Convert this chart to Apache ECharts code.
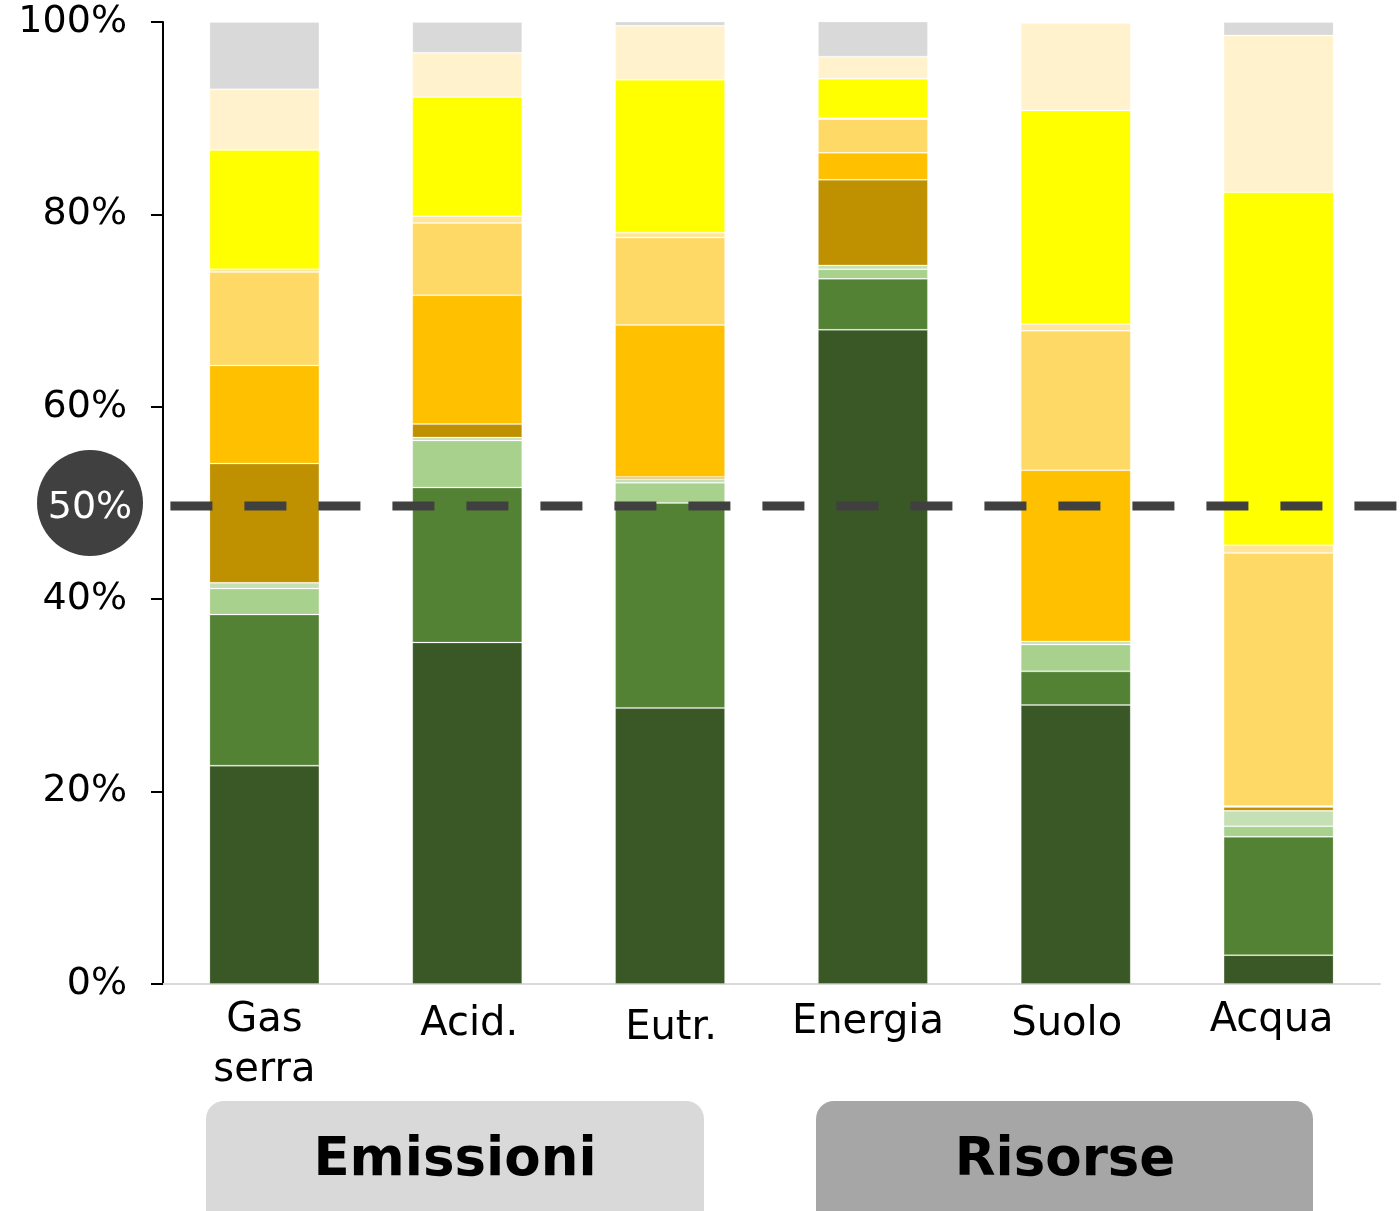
<!DOCTYPE html>
<html>
<head>
<meta charset="utf-8">
<title>Impatti per categoria</title>
<script src="https://cdn.jsdelivr.net/npm/echarts@6/dist/echarts.min.js"></script>
<style>
  html, body { margin: 0; padding: 0; background: #ffffff; }
  #chart { width: 1400px; height: 1211px; }
</style>
</head>
<body>
<div id="chart"></div>
<script>
// Impact categories (x axis)
const categories = ['Gas\nserra', 'Acid.', 'Eutr.', 'Energia', 'Suolo', 'Acqua'];

// Y axis ticks
const yTicks = [0, 20, 40, 60, 80, 100];

// Share of each contributor per category, in %, stacked bottom to top
const darkGreen      = [22.7, 35.5, 28.7, 68.0, 29.0,  3.0];
const midGreen       = [15.7, 16.1, 21.3,  5.3,  3.5, 12.3];
const lightGreen     = [ 2.7,  4.9,  2.1,  1.0,  2.8,  1.1];
const paleGreen      = [ 0.6,  0.3,  0.4,  0.4,  0.3,  1.6];
const darkGold       = [12.4,  1.4,  0.2,  8.9,  0.0,  0.4];
const orange         = [10.2, 13.4, 15.8,  2.8, 17.8,  0.1];
const lightOrange    = [ 9.7,  7.5,  9.1,  3.5, 14.5, 26.3];
const paleOrange     = [ 0.3,  0.7,  0.5,  0.1,  0.7,  0.8];
const yellow         = [12.4, 12.4, 15.9,  4.1, 22.2, 36.7];
const cream          = [ 6.3,  4.6,  5.6,  2.3,  9.1, 16.3];
const grey           = [ 7.0,  3.2,  0.5,  3.7,  0.1,  1.4];

// Reference threshold
const threshold = 50;

// Category groups shown below the axis
const groupLabels = ['Emissioni', 'Risorse'];

const layers = [
  { data: darkGreen,   color: '#3A5726' },
  { data: midGreen,    color: '#548235' },
  { data: lightGreen,  color: '#A9D18E' },
  { data: paleGreen,   color: '#C5E0B4' },
  { data: darkGold,    color: '#BF9000' },
  { data: orange,      color: '#FFC000' },
  { data: lightOrange, color: '#FFD966' },
  { data: paleOrange,  color: '#FFE699' },
  { data: yellow,      color: '#FFFF00' },
  { data: cream,       color: '#FFF2CC' },
  { data: grey,        color: '#D9D9D9' }
];

// Small per-label nudges of the category text boxes [top, right, bottom, left]
const labelPadding = [
  [0, 0, 0, 0],
  [4, 0, 0, 4],
  [8, 0, 0, 2],
  [2, 10, 0, 0],
  [4, 18, 0, 0],
  [0, 14, 0, 0]
];

const FONT = 'DejaVu Sans, Verdana, sans-serif';

const chart = echarts.init(document.getElementById('chart'), null, { renderer: 'canvas' });

const option = {
  backgroundColor: '#ffffff',
  animation: false,
  grid: { left: 163, right: 20, top: 22, bottom: 227, containLabel: false },
  xAxis: {
    type: 'category',
    data: categories.map((c, i) => ({
      value: c,
      textStyle: { padding: labelPadding[i] }
    })),
    axisLine: { show: true, lineStyle: { color: '#D9D9D9', width: 2 } },
    axisTick: { show: false },
    axisLabel: {
      color: '#000000',
      fontFamily: FONT,
      fontSize: 40,
      lineHeight: 50,
      margin: 12,
      interval: 0
    }
  },
  yAxis: {
    type: 'value',
    min: yTicks[0],
    max: yTicks[yTicks.length - 1],
    interval: 20,
    splitLine: { show: false },
    axisLine: { show: true, lineStyle: { color: '#000000', width: 2 } },
    axisTick: { show: true, length: 12, lineStyle: { color: '#000000', width: 2 } },
    axisLabel: {
      color: '#000000',
      fontFamily: FONT,
      fontSize: 38,
      margin: 36,
      formatter: '{value}%'
    }
  },
  series: layers.map((l) => ({
    type: 'bar',
    stack: 'total',
    barWidth: 110,
    data: l.data,
    itemStyle: {
      color: l.color,
      borderColor: 'rgba(255,255,255,0.22)',
      borderWidth: 1
    },
    emphasis: { disabled: true },
    z: 2
  }))
};

chart.setOption(option);

// Overlay: dashed threshold line, its badge and the two group boxes
const yPix = chart.convertToPixel({ yAxisIndex: 0 }, threshold);
const xStart = chart.convertToPixel({ xAxisIndex: 0 }, 0) - 94;

chart.setOption({
  graphic: [
    {
      type: 'line',
      z: 10,
      shape: { x1: xStart, y1: yPix + 3, x2: 1400, y2: yPix + 3 },
      style: { stroke: '#404040', lineWidth: 9, lineDash: [42, 32] }
    },
    {
      type: 'ellipse',
      z: 11,
      shape: { cx: 90, cy: yPix, rx: 53, ry: 53 },
      style: { fill: '#404040' }
    },
    {
      type: 'text',
      z: 12,
      x: 90,
      y: yPix + 5,
      style: {
        text: threshold + '%',
        fill: '#ffffff',
        font: '38px ' + FONT,
        align: 'center',
        verticalAlign: 'middle'
      }
    },
    {
      type: 'rect',
      z: 5,
      shape: { x: 206, y: 1101, width: 498, height: 140, r: 18 },
      style: { fill: '#D9D9D9' }
    },
    {
      type: 'text',
      z: 6,
      x: 455,
      y: 1161,
      style: {
        text: groupLabels[0],
        fill: '#000000',
        font: 'bold 53px ' + FONT,
        align: 'center',
        verticalAlign: 'middle'
      }
    },
    {
      type: 'rect',
      z: 5,
      shape: { x: 816, y: 1101, width: 497, height: 140, r: 18 },
      style: { fill: '#A6A6A6' }
    },
    {
      type: 'text',
      z: 6,
      x: 1065,
      y: 1161,
      style: {
        text: groupLabels[1],
        fill: '#000000',
        font: 'bold 53px ' + FONT,
        align: 'center',
        verticalAlign: 'middle'
      }
    }
  ]
});
</script>
</body>
</html>
